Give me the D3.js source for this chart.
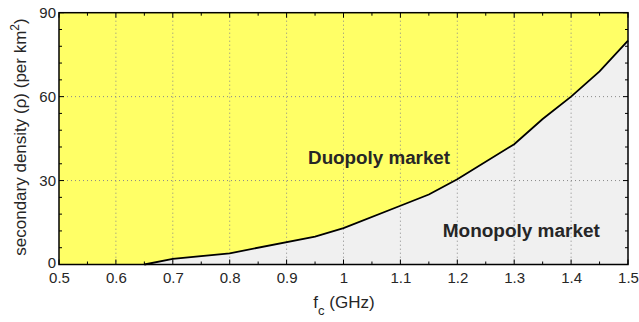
<!DOCTYPE html>
<html><head><meta charset="utf-8">
<script src="https://cdn.jsdelivr.net/npm/d3@7"></script>
<style>
body{margin:0;background:#fff;}
text{font-family:"Liberation Sans",Arial,sans-serif;}
</style></head>
<body><svg id="c" width="639" height="322"></svg>
<script>
const freqs = [0.5, 0.65, 0.7, 0.8, 0.95, 1.0, 1.1, 1.15, 1.2, 1.3, 1.35, 1.4, 1.45, 1.5];
const density = [0, 0, 2, 4, 10, 13, 21, 25, 30.5, 43, 52, 60, 69, 80];
const xTicks = [0.5, 0.6, 0.7, 0.8, 0.9, 1.0, 1.1, 1.2, 1.3, 1.4, 1.5];
const xTickLabels = ["0.5","0.6","0.7","0.8","0.9","1","1.1","1.2","1.3","1.4","1.5"];
const yTicks = [0, 30, 60, 90];
const xMinor = d3.range(0.5, 1.5001, 0.05);
const yMinor = d3.range(0, 90.001, 6);
const labels = [{t:"Duopoly market", x:1.0625, y:38}, {t:"Monopoly market", x:1.3125, y:12}];

const svg = d3.select("#c");
const m = {l:59, r:628, t:12.7, b:264.5};
const x = d3.scaleLinear().domain([0.5,1.5]).range([m.l,m.r]);
const y = d3.scaleLinear().domain([0,90]).range([m.b,m.t]);
const pts = freqs.map((f,i)=>[f,density[i]]);

svg.append("rect").attr("x",m.l).attr("y",m.t).attr("width",m.r-m.l).attr("height",m.b-m.t).attr("fill","#ffff66");
svg.append("path").datum(pts)
  .attr("d", d3.area().x(d=>x(d[0])).y0(y(0)).y1(d=>y(d[1])))
  .attr("fill","#f0f0f0");

const g = svg.append("g");
xTicks.slice(1,-1).forEach(v=>{
  g.append("line").attr("x1",x(v)).attr("x2",x(v)).attr("y1",m.t).attr("y2",m.b)
   .attr("stroke","#888").attr("stroke-width",1).attr("stroke-dasharray","1,3");
});
yTicks.slice(1,-1).forEach(v=>{
  g.append("line").attr("x1",m.l).attr("x2",m.r).attr("y1",y(v)).attr("y2",y(v))
   .attr("stroke","#888").attr("stroke-width",1).attr("stroke-dasharray","1,3");
});

svg.append("path").datum(pts.filter(d=>d[0]>=0.65))
  .attr("d", d3.line().x(d=>x(d[0])).y(d=>y(d[1])))
  .attr("fill","none").attr("stroke","#000").attr("stroke-width",1.8);

const tk = svg.append("g").attr("stroke","#000").attr("stroke-width",1);
xMinor.forEach((v,i)=>{
  const L = (i%2===0)?5:3;
  tk.append("line").attr("x1",x(v)).attr("x2",x(v)).attr("y1",m.b).attr("y2",m.b-L);
  tk.append("line").attr("x1",x(v)).attr("x2",x(v)).attr("y1",m.t).attr("y2",m.t+L);
});
yMinor.forEach((v,i)=>{
  const L = (i%5===0)?5:3;
  tk.append("line").attr("x1",m.l).attr("x2",m.l+L).attr("y1",y(v)).attr("y2",y(v));
  tk.append("line").attr("x1",m.r).attr("x2",m.r-L).attr("y1",y(v)).attr("y2",y(v));
});

svg.append("rect").attr("x",m.l).attr("y",m.t).attr("width",m.r-m.l).attr("height",m.b-m.t)
  .attr("fill","none").attr("stroke","#000").attr("stroke-width",1.5);

const xa = svg.append("g").attr("transform",`translate(0,${m.b})`)
  .call(d3.axisBottom(x).tickValues(xTicks).tickFormat((d,i)=>xTickLabels[i]).tickSize(0).tickPadding(8));
xa.select(".domain").remove();
xa.selectAll("text").attr("font-size",15).attr("fill","#262626").attr("font-family","Liberation Sans, Arial, sans-serif");
const ya = svg.append("g").attr("transform",`translate(${m.l},0)`)
  .call(d3.axisLeft(y).tickValues(yTicks).tickSize(0).tickPadding(3));
ya.select(".domain").remove();
ya.selectAll("text").attr("font-size",15).attr("fill","#262626").attr("font-family","Liberation Sans, Arial, sans-serif");
ya.selectAll(".tick").filter(d=>d===0).select("text").attr("dy","0.2em");

const xl = svg.append("text").attr("x",344).attr("y",308).attr("text-anchor","middle")
  .attr("font-size",17).attr("fill","#262626");
xl.append("tspan").text("f");
xl.append("tspan").attr("font-size",13).attr("dy",7).text("c");
xl.append("tspan").attr("dy",-7).text(" (GHz)");

const yl = svg.append("text").attr("transform","translate(26,137) rotate(-90)").attr("text-anchor","middle")
  .attr("font-size",17).attr("fill","#262626");
yl.append("tspan").text("secondary density (ρ) (per km");
yl.append("tspan").attr("font-size",12).attr("dy",-7).text("2");
yl.append("tspan").attr("dy",7).text(")");

labels.forEach((d,i)=>{
  svg.append("text").attr("x",x(d.x)).attr("y",y(d.y)+6).attr("font-size",18).attr("font-weight","bold")
   .attr("fill","#262626").attr("text-anchor","middle")
   .attr("textLength", i===0?142:157).attr("lengthAdjust","spacingAndGlyphs").text(d.t);
});
</script></body></html>
